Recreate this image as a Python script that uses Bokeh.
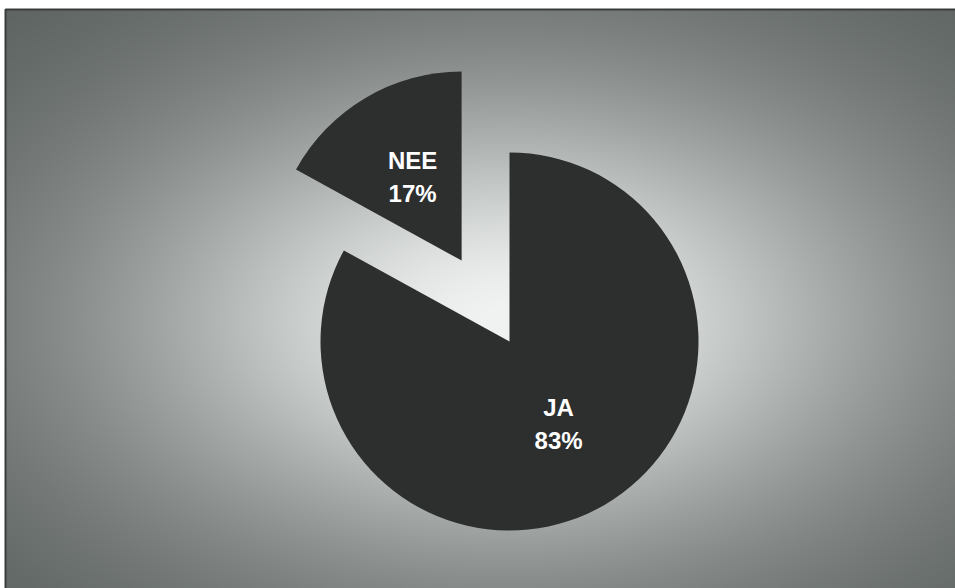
import numpy as np
from bokeh.plotting import figure
from bokeh.models import Range1d
from bokeh.core.properties import value
from bokeh.embed import file_html
from bokeh.resources import INLINE

# data
categories = ["JA", "NEE"]
shares = [83, 17]
labels = ["83%", "17%"]
exploded = [False, True]

W, H = 955, 588
p = figure(width=W, height=H, output_backend="svg", toolbar_location=None,
           x_range=Range1d(0, W), y_range=Range1d(0, H), min_border=0,
           background_fill_color="white", border_fill_color="white")
p.axis.visible = False
p.grid.visible = False
p.outline_line_color = None

# background gradient (decoration)
x0, y0_top = 5, 9
bw, bh = W - x0, H - y0_top
xs = np.arange(bw) + x0 + 0.5
ys_pix = H - (np.arange(bh) + 0.5)  # row 0 at bottom
X, Y = np.meshgrid(xs, ys_pix)
cx, cy, sx, sy = 505, 320, 420, 250
r2 = ((X - cx) / sx) ** 2 + ((Y - cy) / sy) ** 2
g = np.exp(-r2 ** 0.9)
dark = np.array([84, 90, 88])
light = np.array([240, 243, 241])
rgb = dark[None, None, :] + (light - dark)[None, None, :] * g[..., None]
rgb = np.clip(rgb, 0, 255).astype(np.uint8)
img = np.empty((bh, bw), dtype=np.uint32)
view = img.view(dtype=np.uint8).reshape((bh, bw, 4))
view[..., 0] = rgb[..., 0]
view[..., 1] = rgb[..., 1]
view[..., 2] = rgb[..., 2]
view[..., 3] = 255
p.image_rgba(image=[img], x=x0, y=0, dw=bw, dh=bh)
# frame lines
p.line([x0, x0, W], [0, H - y0_top, H - y0_top], line_color="#3a3c3c", line_width=2)

# pie
cxp, cyp = 509, H - 341
r = 189
explode_d = 94
total = sum(shares)
start = np.pi / 2
font = value("Liberation Sans")
for cat, s, lab, ex in zip(categories, shares, labels, exploded):
    frac = s / total
    if cat == "JA":
        a0, a1 = start - 2 * np.pi * frac, start
    else:
        a0, a1 = start, start + 2 * np.pi * frac
    mid = (a0 + a1) / 2
    ox = cxp + (explode_d * np.cos(mid) if ex else 0)
    oy = cyp + (explode_d * np.sin(mid) if ex else 0)
    p.wedge(x=[ox], y=[oy], radius=r, radius_units="screen",
            start_angle=a0, end_angle=a1, fill_color="#2d2f2f", line_color=None)
    lx = ox + 0.51 * r * np.cos(mid)
    ly = oy + 0.51 * r * np.sin(mid)
    p.text(x=[lx], y=[ly], text=[cat], y_offset=-17, text_align="center",
           text_baseline="middle", text_color="white", text_font=font,
           text_font_style="bold", text_font_size="24px")
    p.text(x=[lx], y=[ly], text=[lab], y_offset=16, text_align="center",
           text_baseline="middle", text_color="white", text_font=font,
           text_font_style="bold", text_font_size="24px")

open("out.html", "w").write(file_html(p, INLINE))
